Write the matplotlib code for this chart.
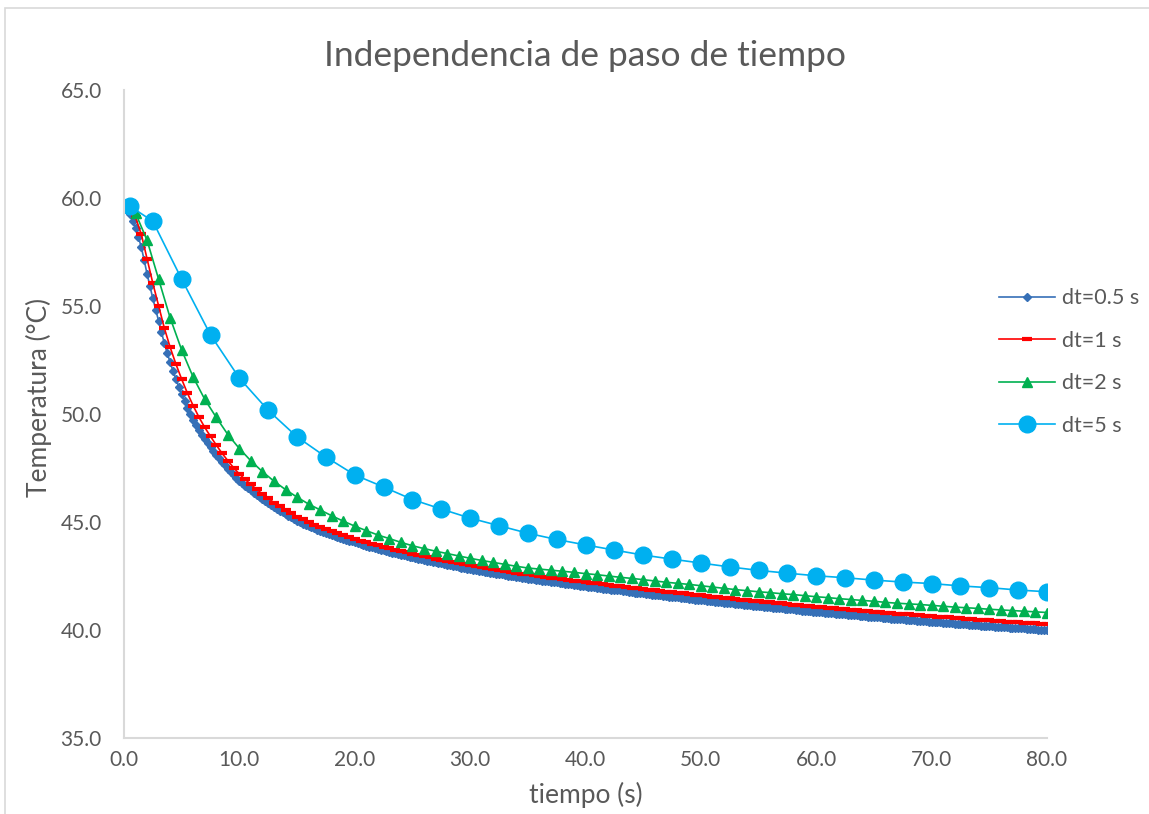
import numpy as np
import matplotlib
matplotlib.use("Agg")
import matplotlib.pyplot as plt
from matplotlib.patches import Rectangle
from matplotlib.ticker import FormatStrFormatter, MultipleLocator

plt.rcParams['font.family'] = ['Lato', 'DejaVu Sans']

# data
step_05 = 0.25   # spacing on the time axis for each series
step_1 = 0.5
step_2 = 1.0

temp_05 = [
    59.60, 59.45, 59.25, 58.95, 58.60, 58.19, 57.72, 57.12,
    56.48, 55.91, 55.35, 54.82, 54.30, 53.78, 53.27, 52.82,
    52.39, 51.99, 51.61, 51.25, 50.91, 50.59, 50.28, 49.99,
    49.73, 49.48, 49.25, 49.03, 48.83, 48.64, 48.46, 48.28,
    48.11, 47.94, 47.77, 47.62, 47.47, 47.32, 47.17, 47.04,
    46.91, 46.79, 46.68, 46.57, 46.47, 46.36, 46.26, 46.15,
    46.06, 45.97, 45.87, 45.78, 45.68, 45.60, 45.51, 45.44,
    45.36, 45.28, 45.21, 45.13, 45.06, 44.99, 44.93, 44.88,
    44.82, 44.76, 44.71, 44.65, 44.60, 44.54, 44.50, 44.45,
    44.41, 44.36, 44.32, 44.27, 44.22, 44.18, 44.14, 44.10,
    44.06, 44.02, 43.98, 43.94, 43.90, 43.86, 43.83, 43.79,
    43.76, 43.72, 43.69, 43.65, 43.62, 43.58, 43.55, 43.52,
    43.49, 43.46, 43.43, 43.40, 43.36, 43.33, 43.30, 43.27,
    43.24, 43.21, 43.19, 43.16, 43.13, 43.10, 43.08, 43.05,
    43.02, 42.99, 42.96, 42.94, 42.91, 42.89, 42.86, 42.84,
    42.82, 42.79, 42.77, 42.74, 42.72, 42.70, 42.68, 42.65,
    42.63, 42.61, 42.59, 42.57, 42.55, 42.52, 42.50, 42.48,
    42.46, 42.44, 42.42, 42.40, 42.38, 42.36, 42.34, 42.32,
    42.30, 42.28, 42.27, 42.25, 42.23, 42.21, 42.20, 42.18,
    42.16, 42.14, 42.13, 42.11, 42.09, 42.07, 42.05, 42.03,
    42.02, 42.00, 41.99, 41.97, 41.96, 41.94, 41.92, 41.90,
    41.89, 41.87, 41.86, 41.84, 41.83, 41.81, 41.79, 41.77,
    41.75, 41.73, 41.72, 41.70, 41.69, 41.67, 41.66, 41.64,
    41.63, 41.61, 41.60, 41.58, 41.57, 41.55, 41.54, 41.52,
    41.51, 41.49, 41.48, 41.46, 41.44, 41.42, 41.41, 41.40,
    41.39, 41.37, 41.36, 41.34, 41.33, 41.31, 41.30, 41.28,
    41.27, 41.25, 41.24, 41.23, 41.22, 41.20, 41.19, 41.17,
    41.15, 41.14, 41.13, 41.11, 41.10, 41.09, 41.08, 41.06,
    41.05, 41.04, 41.03, 41.01, 41.00, 40.99, 40.98, 40.96,
    40.95, 40.93, 40.92, 40.90, 40.89, 40.88, 40.87, 40.85,
    40.84, 40.83, 40.82, 40.80, 40.79, 40.78, 40.77, 40.76,
    40.75, 40.73, 40.72, 40.71, 40.70, 40.69, 40.68, 40.66,
    40.64, 40.63, 40.62, 40.61, 40.60, 40.59, 40.58, 40.57,
    40.56, 40.54, 40.53, 40.52, 40.51, 40.50, 40.49, 40.48,
    40.47, 40.46, 40.45, 40.43, 40.42, 40.41, 40.40, 40.39,
    40.38, 40.37, 40.36, 40.35, 40.34, 40.33, 40.32, 40.31,
    40.30, 40.29, 40.28, 40.27, 40.26, 40.25, 40.24, 40.22,
    40.21, 40.20, 40.19, 40.18, 40.18, 40.17, 40.16, 40.15,
    40.14, 40.13, 40.12, 40.11, 40.11, 40.10, 40.09, 40.08,
    40.07, 40.06, 40.05, 40.04, 40.03, 40.02, 40.01, 40.00,
    39.99]

temp_1 = [
    59.64, 59.50, 59.10, 58.32, 57.18, 56.05, 55.00, 53.97, 53.09, 52.31,
    51.61, 50.96, 50.38, 49.85, 49.38, 48.96, 48.56, 48.18, 47.84, 47.51,
    47.22, 46.97, 46.74, 46.51, 46.30, 46.10, 45.90, 45.72, 45.56, 45.40,
    45.25, 45.12, 45.00, 44.88, 44.77, 44.66, 44.57, 44.48, 44.38, 44.30,
    44.22, 44.14, 44.06, 43.99, 43.92, 43.85, 43.78, 43.71, 43.65, 43.59,
    43.53, 43.47, 43.41, 43.36, 43.30, 43.25, 43.19, 43.14, 43.09, 43.04,
    43.00, 42.95, 42.90, 42.86, 42.81, 42.77, 42.73, 42.69, 42.65, 42.61,
    42.57, 42.53, 42.49, 42.46, 42.42, 42.39, 42.35, 42.32, 42.29, 42.25,
    42.22, 42.19, 42.16, 42.12, 42.09, 42.06, 42.03, 41.99, 41.96, 41.93,
    41.90, 41.87, 41.84, 41.81, 41.78, 41.75, 41.72, 41.69, 41.66, 41.63,
    41.61, 41.58, 41.55, 41.52, 41.49, 41.46, 41.44, 41.41, 41.38, 41.36,
    41.33, 41.31, 41.28, 41.26, 41.23, 41.21, 41.18, 41.16, 41.13, 41.11,
    41.08, 41.06, 41.03, 41.01, 40.99, 40.96, 40.94, 40.92, 40.89, 40.87,
    40.85, 40.83, 40.81, 40.78, 40.76, 40.74, 40.72, 40.70, 40.68, 40.66,
    40.64, 40.62, 40.60, 40.58, 40.56, 40.54, 40.52, 40.50, 40.48, 40.46,
    40.45, 40.43, 40.41, 40.39, 40.38, 40.36, 40.34, 40.32, 40.31, 40.29,
    40.27]

temp_2 = [
    59.60, 59.30, 58.04, 56.24, 54.45, 52.96, 51.70, 50.68, 49.84, 49.05,
    48.40, 47.83, 47.33, 46.89, 46.50, 46.15, 45.83, 45.56, 45.29, 45.04,
    44.81, 44.60, 44.40, 44.23, 44.06, 43.90, 43.77, 43.65, 43.54, 43.43,
    43.32, 43.22, 43.13, 43.04, 42.95, 42.87, 42.82, 42.77, 42.72, 42.67,
    42.61, 42.56, 42.50, 42.44, 42.39, 42.33, 42.27, 42.21, 42.16, 42.11,
    42.05, 41.99, 41.93, 41.87, 41.82, 41.77, 41.73, 41.68, 41.64, 41.59,
    41.54, 41.50, 41.45, 41.41, 41.37, 41.33, 41.28, 41.24, 41.21, 41.18,
    41.14, 41.10, 41.06, 41.03, 41.00, 40.96, 40.93, 40.90, 40.87, 40.84,
    40.81]

time_5 = [0.5, 2.5, 5.0, 7.5, 10.0, 12.5, 15.0, 17.5, 20.0, 22.5, 25.0,
          27.5, 30.0, 32.5, 35.0, 37.5, 40.0, 42.5, 45.0, 47.5, 50.0, 52.5,
          55.0, 57.5, 60.0, 62.5, 65.0, 67.5, 70.0, 72.5, 75.0, 77.5, 80.0]
temp_5 = [59.63, 58.92, 56.24, 53.66, 51.66, 50.17, 48.94, 48.01, 47.18,
          46.62, 46.04, 45.60, 45.18, 44.83, 44.48, 44.19, 43.94, 43.70,
          43.47, 43.28, 43.10, 42.92, 42.76, 42.63, 42.51, 42.42, 42.31,
          42.22, 42.15, 42.04, 41.96, 41.85, 41.77]

labels = ["dt=0.5 s", "dt=1 s", "dt=2 s", "dt=5 s"]

time_05 = np.arange(len(temp_05)) * step_05
time_1 = np.arange(len(temp_1)) * step_1
time_2 = np.arange(len(temp_2)) * step_2

W, H = 1149, 814
fig = plt.figure(figsize=(W / 100, H / 100), dpi=100)
ax = fig.add_axes([124 / W, 1 - 738 / H, (1047 - 124) / W, (738 - 90) / H])

# chart border (only top and left visible in the picture)
fig.patches.append(Rectangle((5 / W, -0.1), 1.2, (H - 8) / H + 0.1,
                             transform=fig.transFigure, fill=False,
                             edgecolor="#D9D9D9", linewidth=1.2))

ax.plot(time_05, temp_05, color="#3670B7", linewidth=1.2, marker="D",
        markersize=3.6, label=labels[0])
ax.plot(time_1, temp_1, color="#FF0000", linewidth=1.2, marker="_",
        markersize=7.5, markeredgewidth=3, label=labels[1])
ax.plot(time_2, temp_2, color="#00B050", linewidth=1.2, marker="^",
        markersize=7, label=labels[2])
ax.plot(time_5, temp_5, color="#00B0F0", linewidth=1.2, marker="o",
        markersize=12, label=labels[3])

ax.set_xlim(0, 80)
ax.set_ylim(35, 65)
ax.xaxis.set_major_locator(MultipleLocator(10))
ax.yaxis.set_major_locator(MultipleLocator(5))
ax.xaxis.set_major_formatter(FormatStrFormatter("%.1f"))
ax.yaxis.set_major_formatter(FormatStrFormatter("%.1f"))

for s in ["top", "right"]:
    ax.spines[s].set_visible(False)
for s in ["left", "bottom"]:
    ax.spines[s].set_color("#D9D9D9")
    ax.spines[s].set_linewidth(1.5)

ax.tick_params(axis="both", length=0, labelsize=15, labelcolor="#595959")
ax.tick_params(axis="y", pad=16)
ax.tick_params(axis="x", pad=9)

ax.set_xlabel("tiempo (s)", fontsize=19, color="#595959")
ax.set_ylabel("Temperatura (°C)", fontsize=19, color="#595959")
ax.xaxis.set_label_coords(0.5, -0.068)
ax.yaxis.set_label_coords(-0.078, 0.525)

fig.text(585 / W, 1 - 56 / H, "Independencia de paso de tiempo",
         ha="center", va="center", fontsize=25.5, color="#595959")

ax.legend(loc="center left", bbox_to_anchor=(980 / W, 1 - 362 / H),
          bbox_transform=fig.transFigure, frameon=False, fontsize=15.5,
          labelcolor="#595959", handlelength=2.6, handletextpad=0.3,
          labelspacing=1.05, numpoints=1)

fig.savefig("out.png", dpi=100)
